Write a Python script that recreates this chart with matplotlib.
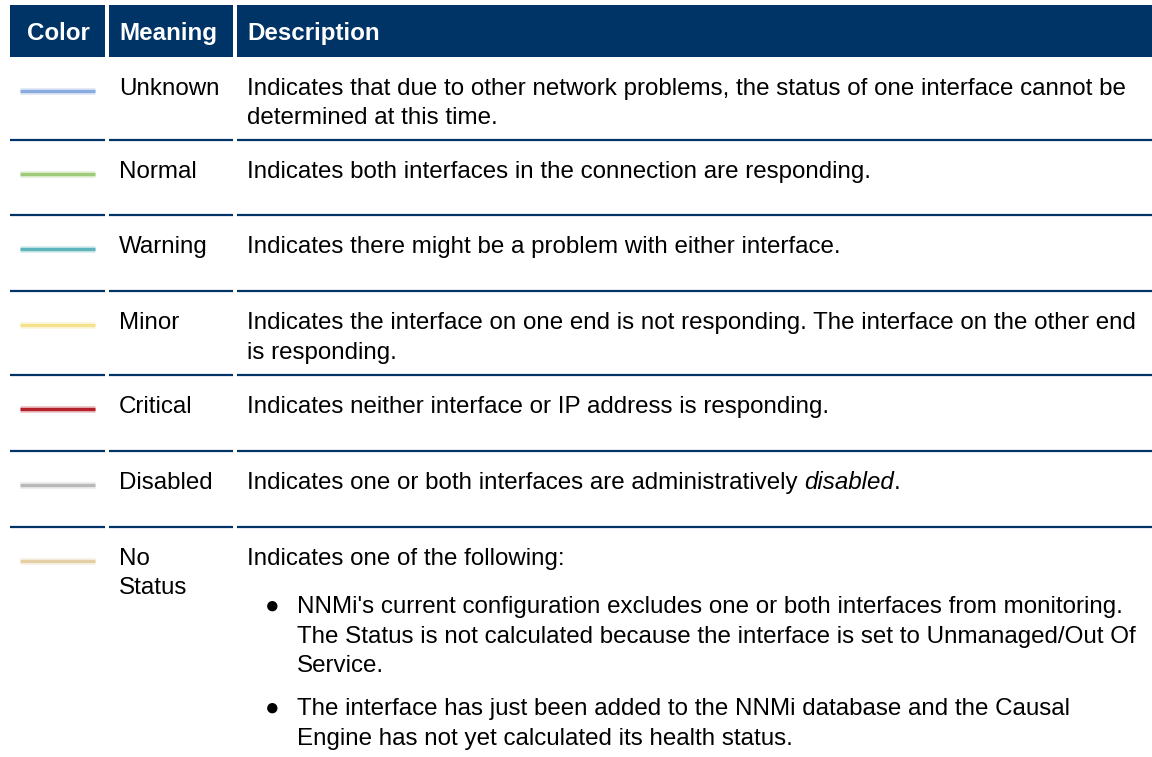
#!/usr/bin/env python3
import matplotlib
matplotlib.use("Agg")
import matplotlib.pyplot as plt

# table content
headers = ["Color", "Meaning", "Description"]
meanings = [["Unknown"], ["Normal"], ["Warning"], ["Minor"], ["Critical"],
            ["Disabled"], ["No", "Status"]]
swatch_colors = ["#89abdf", "#9dcb78", "#5db5bb", "#f6e28c", "#b5212b", "#b9b9b9", "#e5cfa5"]
descriptions = [
    ["Indicates that due to other network problems, the status of one interface cannot be",
     "determined at this time."],
    ["Indicates both interfaces in the connection are responding."],
    ["Indicates there might be a problem with either interface."],
    ["Indicates the interface on one end is not responding. The interface on the other end",
     "is responding."],
    ["Indicates neither interface or IP address is responding."],
    ["Indicates one or both interfaces are administratively "],
    ["Indicates one of the following:"],
]
italic_tail = {5: ("disabled", ".")}
bullets = [
    ["NNMi's current configuration excludes one or both interfaces from monitoring.",
     "The Status is not calculated because the interface is set to Unmanaged/Out Of",
     "Service."],
    ["The interface has just been added to the NNMi database and the Causal",
     "Engine has not yet calculated its health status."],
]

# layout (pixels)
W, H = 1152, 757
navy = "#003366"
cols = [(10, 105), (109, 233), (237, 1152)]
text_x = [27, 119, 247]
head_top, head_bot = 5, 57
row_tops = [57, 140, 215, 291, 375, 451, 527]
line_h = 29.5
fs = 17.4
font = ["Liberation Sans", "DejaVu Sans"]

fig = plt.figure(figsize=(W / 100, H / 100), dpi=100)
ax = fig.add_axes([0, 0, 1, 1])
ax.set_xlim(0, W)
ax.set_ylim(H, 0)
ax.axis("off")

# header
for (x0, x1), tx, label in zip(cols, text_x, headers):
    ax.add_patch(plt.Rectangle((x0, head_top), x1 - x0, head_bot - head_top,
                               color=navy, lw=0))
    ax.text(tx, 40, label, color="white", fontsize=fs, fontweight="bold",
            family=font, va="baseline")

fig.canvas.draw()
renderer = fig.canvas.get_renderer()
inv = ax.transData.inverted()

for i, (meaning, col, desc) in enumerate(zip(meanings, swatch_colors, descriptions)):
    top = row_tops[i]
    base = top + 38
    # separator above the row (not for first row)
    if i > 0:
        for x0, x1 in cols:
            ax.plot([x0, x1], [top, top], color=navy, lw=1.6, solid_capstyle="butt")
    # swatch with a soft halo
    sy = top + 34
    ax.plot([20, 95], [sy, sy], color=col, lw=5, alpha=0.25, solid_capstyle="butt")
    ax.plot([20, 95], [sy, sy], color=col, lw=2.4, solid_capstyle="butt")
    for k, line in enumerate(meaning):
        ax.text(text_x[1], base + k * line_h, line, fontsize=fs, family=font,
                va="baseline")
    for k, line in enumerate(desc):
        t = ax.text(text_x[2], base + k * line_h, line, fontsize=fs, family=font,
                    va="baseline")
    if i in italic_tail:
        ital, rest = italic_tail[i]
        xd = inv.transform((t.get_window_extent(renderer).x1, 0))[0]
        t2 = ax.text(xd, base, ital, fontsize=fs, family=font, style="italic",
                     va="baseline")
        xd2 = inv.transform((t2.get_window_extent(renderer).x1, 0))[0]
        ax.text(xd2, base, rest, fontsize=fs, family=font, va="baseline")

# bullets in the last row
by = [613, 715]
for y0, blines in zip(by, bullets):
    ax.text(272, y0, "\u25cf", fontsize=fs, family=font, va="baseline", ha="center")
    for k, line in enumerate(blines):
        ax.text(297, y0 + k * line_h, line, fontsize=fs, family=font, va="baseline")

fig.savefig("out.png", dpi=100)
